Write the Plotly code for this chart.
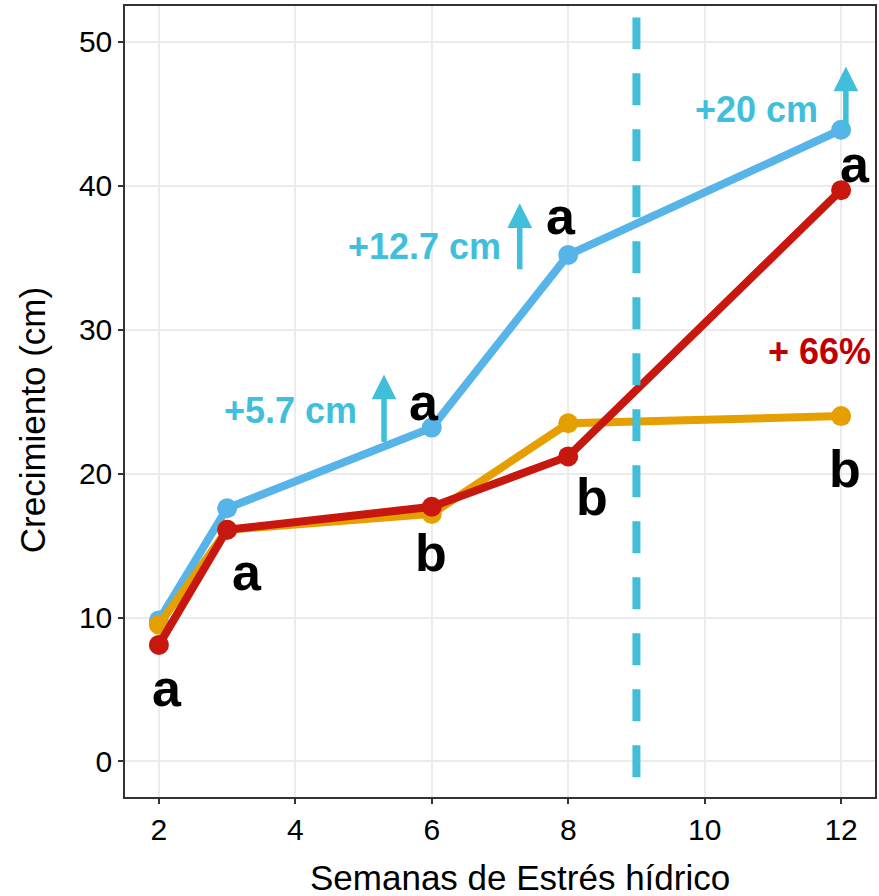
import plotly.graph_objects as go

weeks = [2, 3, 6, 8, 12]
blue_vals = [9.8, 17.6, 23.2, 35.2, 43.9]
orange_vals = [9.5, 16.1, 17.2, 23.5, 24.0]
red_vals = [8.1, 16.1, 17.7, 21.2, 39.7]

blue_col = "#56B4E9"
orange_col = "#E69F00"
red_col = "#C8170F"
cyan_col = "#41BFDA"
dred_col = "#C00000"

letter_x = [2.12, 3.29, 5.89, 5.99, 7.89, 8.35, 12.2, 12.06]
letter_y = [5.1, 13.2, 25.0, 14.5, 37.9, 18.4, 41.5, 20.3]
letter_txt = ["a", "a", "a", "b", "a", "b", "a", "b"]

gain_x = [3.93, 5.89, 10.76]
gain_y = [24.4, 35.8, 45.3]
gain_txt = ["+5.7 cm", "+12.7 cm", "+20 cm"]

arrow_x = [5.30, 7.29, 12.07]
arrow_y0 = [22.1, 34.1, 43.8]
arrow_y1 = [26.9, 38.8, 48.3]

pct_x, pct_y, pct_txt = 11.68, 28.5, "+ 66%"

cut_x = 9
cut_y = [-1.1, 51.7]

x_title = "Semanas de Estrés hídrico"
y_title = "Crecimiento (cm)"

fig = go.Figure()
for vals, col in [(blue_vals, blue_col), (orange_vals, orange_col), (red_vals, red_col)]:
    fig.add_trace(go.Scatter(x=weeks, y=vals, mode="lines+markers",
                             line=dict(color=col, width=8),
                             marker=dict(color=col, size=20),
                             showlegend=False))

fig.add_shape(type="line", x0=cut_x, x1=cut_x, y0=cut_y[0], y1=cut_y[1],
              xref="x", yref="y", line=dict(color=cyan_col, width=8, dash="32px,24px"))

FONT = "Liberation Sans, Arial"
anns = []
for x, y, t in zip(letter_x, letter_y, letter_txt):
    anns.append(dict(x=x, y=y, text=t, showarrow=False, xref="x", yref="y",
                     font=dict(family=FONT, size=52, color="black", weight="bold")))
for x, y, t in zip(gain_x, gain_y, gain_txt):
    anns.append(dict(x=x, y=y, text=t, showarrow=False, xref="x", yref="y",
                     font=dict(family=FONT, size=36, color=cyan_col, weight="bold")))
anns.append(dict(x=pct_x, y=pct_y, text=pct_txt, showarrow=False, xref="x", yref="y",
                 font=dict(family=FONT, size=36, color=dred_col, weight="bold")))
for x, y0, y1 in zip(arrow_x, arrow_y0, arrow_y1):
    anns.append(dict(x=x, y=y1, ax=x, ay=y0, xref="x", yref="y", axref="x", ayref="y",
                     text="", showarrow=True, arrowhead=2, arrowwidth=5.5, arrowsize=0.9,
                     arrowcolor=cyan_col, standoff=0, startstandoff=0))
anns.append(dict(x=0.527, y=-0.1024, xref="paper", yref="paper", text=x_title,
                 showarrow=False, xanchor="center", yanchor="middle",
                 font=dict(family=FONT, size=35, color="black")))
anns.append(dict(x=-0.1237, y=0.4766, xref="paper", yref="paper", text=y_title,
                 showarrow=False, xanchor="center", yanchor="middle", textangle=-90,
                 font=dict(family=FONT, size=35, color="black")))

fig.update_layout(
    width=879, height=896,
    margin=dict(l=125, r=2, t=6, b=99),
    paper_bgcolor="white", plot_bgcolor="white",
    font=dict(family=FONT, color="black"),
    annotations=anns,
    xaxis=dict(range=[1.503, 12.497], tickvals=[2, 4, 6, 8, 10, 12],
               showgrid=True, gridcolor="#EBEBEB", gridwidth=1.5, zeroline=False,
               showline=True, linecolor="#333333", linewidth=1.5, mirror=True,
               ticks="outside", ticklen=5, tickcolor="#333333", tickwidth=1.5,
               tickfont=dict(size=30, color="black")),
    yaxis=dict(range=[-2.47, 52.5], tickvals=[0, 10, 20, 30, 40, 50],
               showgrid=True, gridcolor="#EBEBEB", gridwidth=1.5, zeroline=False,
               showline=True, linecolor="#333333", linewidth=1.5, mirror=True,
               ticks="outside", ticklen=5, tickcolor="#333333", tickwidth=1.5,
               tickfont=dict(size=30, color="black")),
)

fig.write_html("out.html")
